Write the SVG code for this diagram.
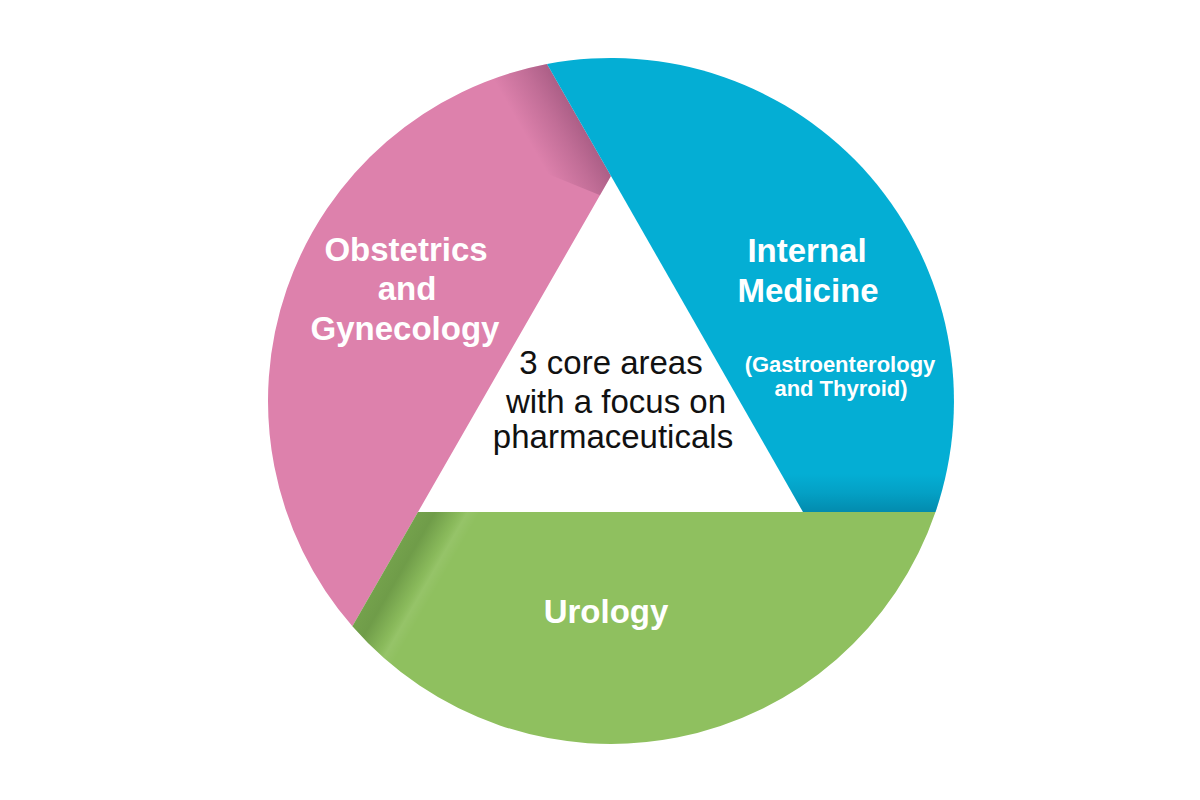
<svg xmlns="http://www.w3.org/2000/svg" xmlns:xlink="http://www.w3.org/1999/xlink" width="1200" height="800" viewBox="0 0 1200 800">
  <style>
    .lbl { font-family: "Liberation Sans", Arial, sans-serif; font-weight: bold; fill: #ffffff; text-anchor: middle; }
    .big { font-size: 33px; }
    .sub { font-size: 22px; }
    .core { font-family: "Liberation Sans", Arial, sans-serif; font-size: 33px; fill: #111111; text-anchor: middle; }
  </style>
  <defs>
    <path id="p-pink" d="M 547,64 L 611,176 L 418,512 L 352.4,626.3 A 343 343 0 0 1 547,64 Z"/>
    <path id="p-blue" d="M 547,64 A 343 343 0 0 1 935.5,512 L 803,512 L 611,176 Z"/>
    <path id="p-green" d="M 418,512 L 935.5,512 A 343 343 0 0 1 352.4,626.3 Z"/>
    <clipPath id="c-pink"><use xlink:href="#p-pink"/></clipPath>
    <clipPath id="c-blue"><use xlink:href="#p-blue"/></clipPath>
    <clipPath id="c-green"><use xlink:href="#p-green"/></clipPath>
    <linearGradient id="g-pink-sh" gradientUnits="userSpaceOnUse" x1="579" y1="120" x2="532" y2="147">
      <stop offset="0" stop-color="#3a1030" stop-opacity="0.3"/>
      <stop offset="0.4" stop-color="#3a1030" stop-opacity="0.17"/>
      <stop offset="1" stop-color="#3a1030" stop-opacity="0"/>
    </linearGradient>
    <linearGradient id="g-blue-sh" gradientUnits="userSpaceOnUse" x1="0" y1="512" x2="0" y2="474">
      <stop offset="0" stop-color="#003a55" stop-opacity="0.3"/>
      <stop offset="0.5" stop-color="#003a55" stop-opacity="0.12"/>
      <stop offset="1" stop-color="#003a55" stop-opacity="0"/>
    </linearGradient>
    <linearGradient id="g-green-sh" gradientUnits="userSpaceOnUse" x1="385" y1="569" x2="437" y2="599">
      <stop offset="0" stop-color="#1e4010" stop-opacity="0.24"/>
      <stop offset="0.25" stop-color="#1e4010" stop-opacity="0.28"/>
      <stop offset="0.6" stop-color="#1e4010" stop-opacity="0.05"/>
      <stop offset="0.72" stop-color="#ffffff" stop-opacity="0.06"/>
      <stop offset="0.9" stop-color="#ffffff" stop-opacity="0"/>
    </linearGradient>
  </defs>

  <rect x="0" y="0" width="1200" height="800" fill="#ffffff"/>

  <g id="seg-obgyn">
    <use xlink:href="#p-pink" fill="#dd81ac"/>
    <polygon points="560,40 611,176 602,196 440,130 460,20" fill="url(#g-pink-sh)" clip-path="url(#c-pink)"/>
    <text class="lbl big" x="406" y="261">Obstetrics</text>
    <text class="lbl big" x="407" y="300">and</text>
    <text class="lbl big" x="405" y="340">Gynecology</text>
  </g>

  <g id="seg-internal">
    <use xlink:href="#p-blue" fill="#04aed4"/>
    <rect x="780" y="470" width="170" height="42" fill="url(#g-blue-sh)" clip-path="url(#c-blue)"/>
    <text class="lbl big" x="807" y="262">Internal</text>
    <text class="lbl big" x="808" y="302">Medicine</text>
    <text class="lbl sub" x="840" y="372">(Gastroenterology</text>
    <text class="lbl sub" x="841" y="396">and Thyroid)</text>
  </g>

  <g id="seg-urology">
    <use xlink:href="#p-green" fill="#8fc05f"/>
    <rect x="340" y="512" width="200" height="200" fill="url(#g-green-sh)" clip-path="url(#c-green)"/>
    <text class="lbl big" x="606" y="623">Urology</text>
  </g>

  <g id="center">
    <text class="core" x="611" y="374">3 core areas</text>
    <text class="core" x="616" y="413">with a focus on</text>
    <text class="core" x="613" y="448">pharmaceuticals</text>
  </g>
</svg>
